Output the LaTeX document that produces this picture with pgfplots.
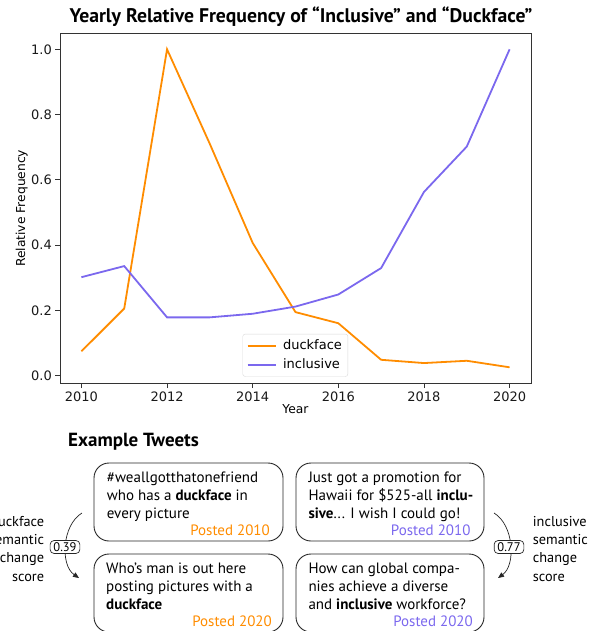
\documentclass[border=0pt]{standalone}
\usepackage{fontspec}
\setmainfont{PT Sans}
\newfontfamily\dejavu{DejaVu Sans}
\usepackage{pgfplots}
\pgfplotsset{compat=1.18}
\usetikzlibrary{arrows.meta}
\definecolor{dorange}{HTML}{FF8C00}
\definecolor{mslate}{HTML}{7B68EE}
\definecolor{framegray}{HTML}{333333}
\newcommand\tw[3]{\node[anchor=base west, inner sep=0pt, font=\fontsize{15}{18}\selectfont] at (#1pt,-#2pt) {#3};}
\newcommand\pe[4]{\node[anchor=base east, inner sep=0pt, text=#4, font=\fontsize{15}{18}\selectfont] at (#1pt,-#2pt) {#3};}
\begin{document}
\begin{tikzpicture}
\path[use as bounding box, clip] (0pt,0pt) rectangle (594pt,-631pt);
\begin{axis}[
  at={(60pt,-383.3pt)}, anchor=south west,
  width=471pt, height=350pt, scale only axis,
  xmin=2009.5, xmax=2020.5, ymin=-0.023, ymax=1.049,
  xtick={2010,2012,2014,2016,2018,2020},
  ytick={0,0.2,0.4,0.6,0.8,1.0},
  tick pos=left, tick align=outside, major tick length=4.7pt,
  tick style={framegray, line width=0.9pt},
  axis line style={framegray, line width=0.9pt},
  /pgf/number format/assume math mode=true,
  x tick label style={/pgf/number format/1000 sep={}},
  y tick label style={/pgf/number format/.cd, fixed, fixed zerofill, precision=1},
  ticklabel style={font=\dejavu\fontsize{13}{15}\selectfont, text=black!90},
  xlabel={Year}, ylabel={Relative Frequency},
  label style={font=\dejavu\fontsize{12.3}{14}\selectfont},
  xlabel style={at={(axis description cs:0.5,-0.0866)}, anchor=base},
  ylabel style={at={(axis description cs:-0.0813,0.5)}, anchor=center},
  legend style={at={(axis description cs:0.4996,0.019)}, anchor=south,
    draw=black!15, rounded corners=2.5pt, fill=white, fill opacity=0.8, text opacity=1,
    font=\dejavu\fontsize{13}{15}\selectfont, inner xsep=4pt, inner ysep=4pt,
    row sep=3.6pt, /tikz/every odd column/.append style={column sep=4.5pt}},
  legend cell align=left,
  legend image code/.code={\draw[#1] (0pt,0pt) -- (28pt,0pt);},
]
\addplot[color=dorange, line width=1.8pt] coordinates {
 (2010,0.075) (2011,0.206) (2012,1.0) (2013,0.71) (2014,0.407) (2015,0.195)
 (2016,0.161) (2017,0.049) (2018,0.039) (2019,0.046) (2020,0.026)};
\addlegendentry{duckface}
\addplot[color=mslate, line width=1.8pt] coordinates {
 (2010,0.302) (2011,0.336) (2012,0.179) (2013,0.179) (2014,0.19) (2015,0.212)
 (2016,0.249) (2017,0.33) (2018,0.563) (2019,0.702) (2020,1.0)};
\addlegendentry{inclusive}
\end{axis}
% title
\node[anchor=base, inner sep=0pt, font=\bfseries\fontsize{19.7}{23}\selectfont] at (301pt,-22.7pt)
  {Yearly Relative Frequency of “Inclusive” and “Duckface”};
\node[anchor=base west, inner sep=0pt, font=\bfseries\fontsize{19}{22}\selectfont] at (68pt,-446pt) {Example Tweets};
% boxes
\draw[black!85, line width=0.9pt, rounded corners=15pt] (94pt,-463pt) rectangle (283pt,-541pt);
\draw[black!85, line width=0.9pt, rounded corners=15pt] (94pt,-554pt) rectangle (283pt,-632pt);
\draw[black!85, line width=0.9pt, rounded corners=15pt] (296pt,-463pt) rectangle (484pt,-541pt);
\draw[black!85, line width=0.9pt, rounded corners=15pt] (296pt,-554pt) rectangle (484pt,-632pt);
% tweets
\tw{106.7}{482.7}{\#weallgotthatonefriend}
\tw{106.7}{500.7}{who has a \textbf{duckface} in}
\tw{106.7}{518.7}{every picture}
\pe{270}{535}{Posted 2010}{dorange}
\tw{106}{573.3}{Who's man is out here}
\tw{106}{591.3}{posting pictures with a}
\tw{106}{609.3}{\textbf{duckface}}
\pe{272}{626.7}{Posted 2020}{dorange}
\tw{308.3}{482.7}{Just got a promotion for}
\tw{308.3}{500.7}{Hawaii for \$525-all \textbf{inclu-}}
\tw{308.3}{518.7}{\textbf{sive}... I wish I could go!}
\pe{470.7}{535}{Posted 2010}{mslate}
\tw{308.3}{573.3}{How can global compa-}
\tw{308.3}{591.3}{nies achieve a diverse}
\tw{308.3}{609.3}{and \textbf{inclusive} workforce?}
\pe{473}{626.7}{Posted 2020}{mslate}
% side labels
\foreach \t/\y in {duckface/526, semantic/544.3, change/562.7, score/581}
  \node[anchor=base east, inner sep=0pt, font=\fontsize{14.3}{17}\selectfont] at (44.3pt,-\y pt) {\t};
\foreach \t/\y in {inclusive/526, semantic/544.3, change/562.7, score/581}
  \node[anchor=base west, inner sep=0pt, font=\fontsize{14.3}{17}\selectfont] at (532.7pt,-\y pt) {\t};
% arcs
\draw[black!85, line width=0.7pt, -{Triangle[length=6pt, width=5pt]}] (82pt,-513pt) .. controls (62pt,-525pt) and (60pt,-565pt) .. (79pt,-578pt);
\draw[black!85, line width=0.7pt, -{Triangle[length=6pt, width=5pt]}] (494pt,-513pt) .. controls (514pt,-525pt) and (516pt,-565pt) .. (498pt,-578pt);
\node[draw=black!85, fill=white, line width=0.7pt, rounded corners=4pt, inner xsep=3.3pt, inner ysep=2pt, font=\fontsize{12.5}{14}\selectfont] at (65pt,-547pt) {0.39};
\node[draw=black!85, fill=white, line width=0.7pt, rounded corners=4pt, inner xsep=3.3pt, inner ysep=2pt, font=\fontsize{12.5}{14}\selectfont] at (509pt,-547pt) {0.77};
\end{tikzpicture}
\end{document}
